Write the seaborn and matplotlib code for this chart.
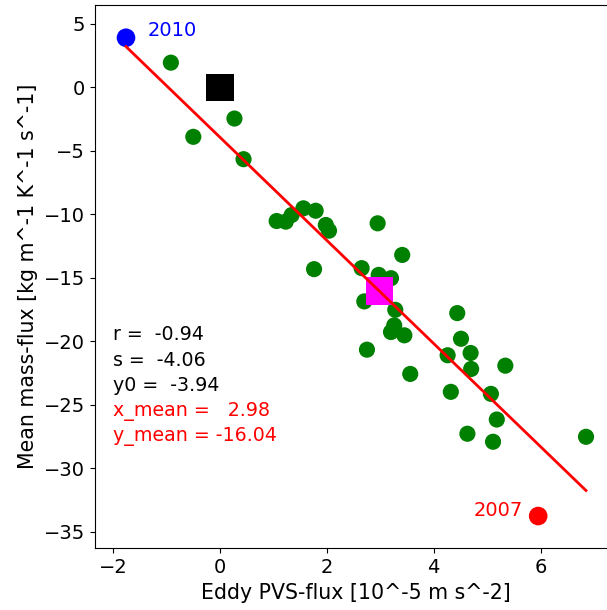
import matplotlib
matplotlib.use("Agg")
import matplotlib.pyplot as plt
import seaborn as sns
import numpy as np
import pandas as pd

# Green points: eddy PVS-flux (x) vs mean mass-flux (y)
pvs_flux = [-0.92, 0.27, -0.50, 0.44, 1.06, 1.23, 1.34, 1.56, 1.79, 1.98, 2.04,
            1.76, 2.95, 3.41, 2.65, 2.97, 3.20, 2.70, 3.28, 3.26, 3.20, 3.45,
            2.75, 3.56, 4.44, 4.51, 4.69, 4.26, 4.70, 5.34, 4.32, 5.07, 5.18,
            4.63, 5.11, 6.85]
mass_flux = [1.94, -2.46, -3.90, -5.66, -10.53, -10.58, -10.06, -9.53, -9.72,
             -10.84, -11.29, -14.32, -10.71, -13.20, -14.24, -14.77, -15.03,
             -16.86, -17.52, -18.75, -19.27, -19.53, -20.66, -22.57, -17.78,
             -19.80, -20.92, -21.10, -22.18, -21.92, -23.98, -24.14, -26.16,
             -27.28, -27.91, -27.52]

# Highlighted years
year_labels = ["2010", "2007"]
year_x = [-1.76, 5.955]
year_y = [3.90, -33.76]
year_colors = ["blue", "red"]

# Statistics
r_val = -0.94
slope = -4.06
intercept = -3.94
x_mean = 2.98
y_mean = -16.04

stat_lines = ["r =  -0.94", "s =  -4.06", "y0 =  -3.94",
              "x_mean =   2.98", "y_mean = -16.04"]
stat_colors = ["black", "black", "black", "red", "red"]

W, H = 607, 610
fig = plt.figure(figsize=(W / 100, H / 100), dpi=100)
left, right, top, bottom = 95, 617, 5, 548.3
ax = fig.add_axes([left / W, (H - bottom) / H, (right - left) / W, (bottom - top) / H])

df = pd.DataFrame({"x": pvs_flux, "y": mass_flux})
sns.scatterplot(data=df, x="x", y="y", ax=ax, color="green", s=135,
                edgecolor="none", zorder=2)

# origin square and mean square
sns.scatterplot(x=[0.0], y=[0.0], ax=ax, color="black", marker="s", s=380,
                edgecolor="none", zorder=3)
sns.scatterplot(x=[x_mean], y=[y_mean], ax=ax, color="magenta", marker="s",
                s=380, edgecolor="none", zorder=3)

# highlighted years
for lab, xx, yy, cc in zip(year_labels, year_x, year_y, year_colors):
    sns.scatterplot(x=[xx], y=[yy], ax=ax, color=cc, s=180, edgecolor="none",
                    zorder=3)

ax.text(year_x[0] + 0.40, year_y[0] + 0.55, year_labels[0], color="blue",
        fontsize=14, ha="left", va="center")
ax.text(year_x[1] - 0.28, year_y[1] + 0.40, year_labels[1], color="red",
        fontsize=14, ha="right", va="center")

# regression line
all_x = pvs_flux + year_x
lx = np.array([min(all_x), max(all_x)])
ly = intercept + slope * lx
sns.lineplot(x=lx, y=ly, ax=ax, color="red", linewidth=2, zorder=4)

# statistics text
for i, (t, c) in enumerate(zip(stat_lines, stat_colors)):
    ax.text(-2.0, -19.5 - 2.0 * i, t, color=c, fontsize=13.7, ha="left",
            va="center")

ax.set_xlim(-2.34, 7.43)
ax.set_ylim(-36.3, 6.48)
ax.set_xticks([-2, 0, 2, 4, 6])
ax.set_yticks([-35, -30, -25, -20, -15, -10, -5, 0, 5])
ax.tick_params(labelsize=14)
ax.set_xlabel("Eddy PVS-flux [10^-5 m s^-2]", fontsize=14.8)
ax.set_ylabel("Mean mass-flux [kg m^-1 K^-1 s^-1]", fontsize=14.8)

fig.savefig("out.png", dpi=100)
